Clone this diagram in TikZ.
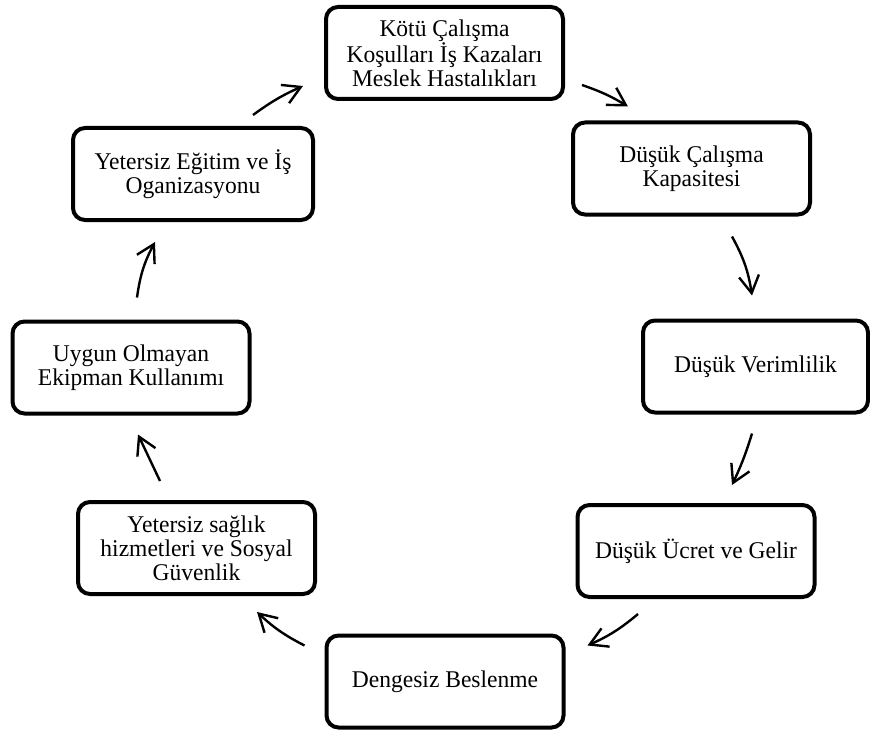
\documentclass[tikz,border=0pt]{standalone}
\usepackage{fontspec}
\setmainfont{Liberation Serif}[FakeStretch=0.98]
\usetikzlibrary{arrows.meta}

\begin{document}
\begin{tikzpicture}[
    x=0.75pt, y=-0.75pt,
    stage/.style={rectangle, draw, line width=3pt, rounded corners=9pt, minimum width=177.75pt, minimum height=69pt, align=center, font=\fontsize{18pt}{18pt}\selectfont},
    cyc/.style={-{Straight Barb[length=13pt,width=15pt]}, line width=1.8pt}
]
    \useasboundingbox (0,0) rectangle (870,731);

    % Stages
    \node[stage] (kotu) at (444.5,53) {Kötü Çalışma\\Koşulları İş Kazaları\\Meslek Hastalıkları};
    \node[stage] (kapasite) at (691.5,168.5) {Düşük Çalışma\\Kapasitesi};
    \node[stage, minimum width=168.75pt] (verim) at (755.5,366.5) {Düşük Verimlilik};
    \node[stage] (ucret) at (696,551) {Düşük Ücret ve Gelir};
    \node[stage] (denge) at (445,681.5) {Dengesiz Beslenme};
    \node[stage] (saglik) at (196.5,548) {Yetersiz sağlık\\hizmetleri ve Sosyal\\Güvenlik};
    \node[stage] (uygun) at (131,367.5) {Uygun Olmayan\\Ekipman Kullanımı};
    \node[stage, minimum width=180pt] (egitim) at (193,174) {Yetersiz Eğitim ve İş\\Oganizasyonu};

    % Cycle arrows
    \draw[cyc] ([shift={(60,-11)}]egitim.north) to[bend left=6] ([shift={(-21,-15)}]kotu.south west);
    \draw[cyc] ([shift={(17,-16)}]kotu.south east) to[bend left=6] ([shift={(57,-14)}]kapasite.north west);
    \draw[cyc] ([shift={(40.5,20)}]kapasite.south) to[bend left=10] ([shift={(-3.5,-23)}]verim.north);
    \draw[cyc] ([shift={(-3.5,19)}]verim.south) to[bend left=4] ([shift={(36,-18)}]ucret.north);
    \draw[cyc] ([shift={(-58,15)}]ucret.south) to[bend left=8] ([shift={(22,12)}]denge.north east);
    \draw[cyc] ([shift={(-20,12)}]denge.north west) to[bend left=8] ([shift={(-60,16)}]saglik.south east);
    \draw[cyc] ([shift={(-36.5,-19)}]saglik.north) to ([shift={(7,19)}]uygun.south);
    \draw[cyc] ([shift={(6,-22)}]uygun.north) to[bend left=10] ([shift={(-38,20)}]egitim.south);
\end{tikzpicture}
\end{document}
